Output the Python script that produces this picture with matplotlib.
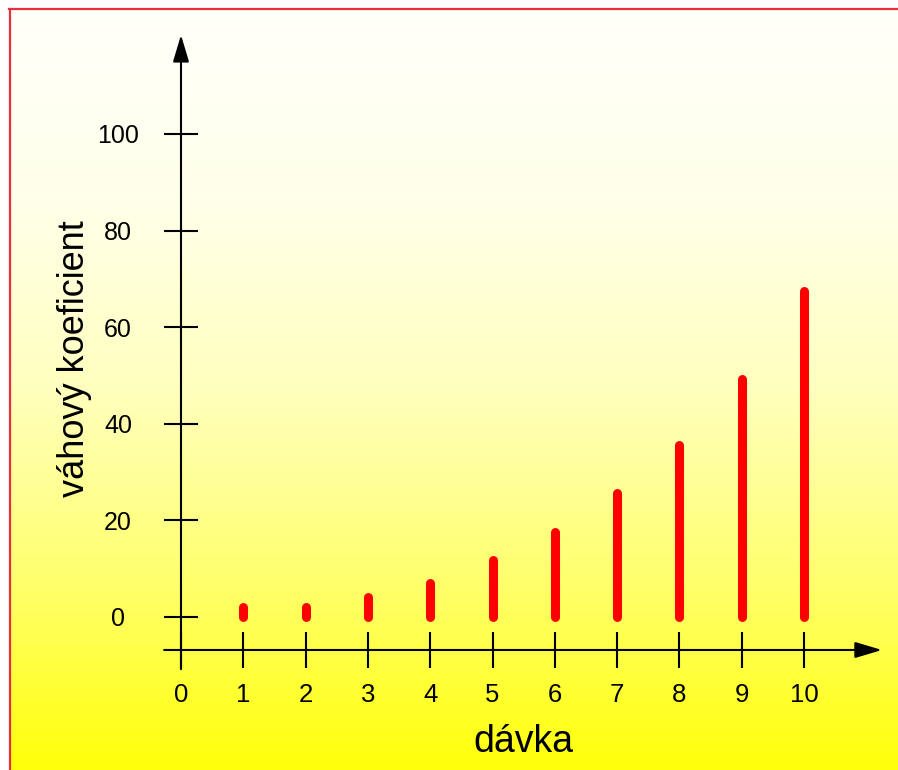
import matplotlib
matplotlib.use("Agg")
import matplotlib.pyplot as plt
import numpy as np
from matplotlib.colors import LinearSegmentedColormap
from matplotlib.lines import Line2D

plt.rcParams["font.family"] = ["Liberation Sans", "DejaVu Sans"]

# batch number and its weighting coefficient
batches = [1, 2, 3, 4, 5, 6, 7, 8, 9, 10]
weights = [2.0, 2.0, 4.1, 7.0, 11.7, 17.7, 25.6, 35.7, 49.2, 67.4]

x_ticks = [0, 1, 2, 3, 4, 5, 6, 7, 8, 9, 10]
y_ticks = [0, 20, 40, 60, 80, 100]

W, H = 898, 770
DPI = 100

# axes span the whole figure; data limits put 0,0 where the axes cross
XLIM = (-181 / 62.3, (W - 181) / 62.3)
YLIM = ((617 - H) / 4.83, 617 / 4.83)
X_AXIS_Y = -6.83


def draw_background(fig):
    cmap = LinearSegmentedColormap.from_list(
        "cream_yellow",
        [(0.0, "#fffffa"), (0.25, "#ffffea"), (0.5, "#ffffbe"),
         (0.75, "#ffff6e"), (1.0, "#ffff0a")],
    )
    bg = fig.add_axes([10 / W, 0, 1 - 10 / W, 1 - 9 / H], zorder=-1)
    grad = np.linspace(0, 1, 256).reshape(-1, 1)
    bg.imshow(grad, cmap=cmap, aspect="auto", extent=(0, 1, 1, 0))
    bg.set_axis_off()

    # red frame along the top and left edge
    fig.add_artist(Line2D([9 / W, 1], [1 - 8.5 / H] * 2, color="#e8303a", lw=1.6))
    fig.add_artist(Line2D([9.5 / W] * 2, [0, 1 - 8.5 / H], color="#e8303a", lw=1.6))


def main() -> None:
    fig = plt.figure(figsize=(W / DPI, H / DPI), dpi=DPI)
    draw_background(fig)

    ax = fig.add_axes([0, 0, 1, 1])
    ax.set_facecolor("none")
    ax.set_xlim(*XLIM)
    ax.set_ylim(*YLIM)

    for side in ["top", "right"]:
        ax.spines[side].set_visible(False)
    ax.spines["left"].set_position(("data", 0))
    ax.spines["bottom"].set_position(("data", X_AXIS_Y))
    ax.spines["left"].set_visible(False)
    ax.spines["bottom"].set_visible(False)

    # axis lines with arrow heads
    arrow = dict(arrowstyle="-|>,head_length=1.1,head_width=0.33",
                 color="black", lw=1.5, mutation_scale=15, shrinkA=0, shrinkB=0)
    ax.annotate("", xy=(11.25, X_AXIS_Y), xytext=(-0.27, X_AXIS_Y), arrowprops=arrow)
    ax.annotate("", xy=(0, 120.5), xytext=(0, -10.8), arrowprops=arrow)

    ax.set_xticks(x_ticks)
    ax.set_yticks(y_ticks)
    ax.tick_params(axis="x", direction="inout", length=26, width=1.5, pad=11,
                   labelsize=18.5)
    ax.tick_params(axis="y", direction="inout", length=24.5, width=1.5, pad=33,
                   labelsize=18)
    for lbl in ax.get_yticklabels():
        lbl.set_horizontalalignment("center")

    ax.vlines(batches, 0, weights, colors="#ff0000", linewidth=6.5,
              capstyle="round", zorder=3)

    ax.set_xlabel("dávka", fontsize=27, va="baseline", ha="center")
    ax.xaxis.set_label_coords(523 / W, 1 - 752 / H)
    ax.set_ylabel("váhový koeficient", fontsize=26, va="center", ha="center")
    ax.yaxis.set_label_coords(75 / W, 1 - 359 / H)

    fig.savefig("out.png", dpi=DPI)
    plt.close(fig)


if __name__ == "__main__":
    main()
